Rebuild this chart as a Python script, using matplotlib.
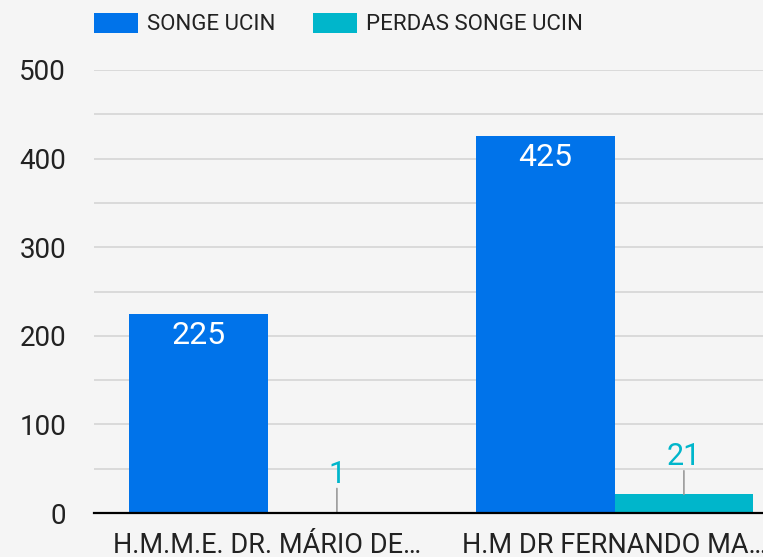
import numpy as np
import matplotlib
matplotlib.use("Agg")
import matplotlib.pyplot as plt
from matplotlib.patches import Patch

categories = ["H.M.M.E. DR. MÁRIO DE…", "H.M DR FERNANDO MA…"]
series_names = ["SONGE UCIN", "PERDAS SONGE UCIN"]
songe = [225, 425]
perdas = [1, 21]
y_ticks = [0, 100, 200, 300, 400, 500]

colors = ["#0073EA", "#00B6CB"]
bg = "#f5f5f5"

plt.rcParams["font.family"] = ["Roboto", "DejaVu Sans"]

fig = plt.figure(figsize=(7.63, 5.57), dpi=100, facecolor=bg)
ax = fig.add_axes([94 / 763, 44 / 557, 694 / 763, 443 / 557], facecolor=bg)

x = np.arange(len(categories))
w = 0.4
series = [songe, perdas]
for i, vals in enumerate(series):
    xs = x + (i - 0.5) * w
    ax.bar(xs, vals, width=w, color=colors[i], zorder=3)
    for xi, v in zip(xs, vals):
        if v > 50:
            # big bars: label inside, white
            ax.annotate(str(v), xy=(xi, v), xytext=(0, -5), textcoords="offset points",
                        ha="center", va="top", color="white", fontsize=23, zorder=4)
        else:
            # small bars: leader line + label above
            ax.annotate("", xy=(xi, v), xytext=(0, 17), textcoords="offset points",
                        arrowprops=dict(arrowstyle="-", color="#9a9a9a", lw=1.2,
                                        shrinkA=0, shrinkB=0), zorder=4)
            ax.annotate(str(v), xy=(xi, v), xytext=(0, 21), textcoords="offset points",
                        ha="center", va="baseline", color=colors[i], fontsize=22, zorder=4)

ax.set_xlim(-0.5, 1.5)
ax.set_ylim(0, 500)
ax.set_yticks(y_ticks)
ax.set_yticks(np.arange(0, 501, 50), minor=True)
ax.grid(True, which="both", axis="y", color="#d2d2d2", lw=1.1, zorder=0)
ax.set_xticks(x)
ax.set_xticklabels(categories, fontsize=19.5, color="#222222")
ax.tick_params(axis="x", length=0, pad=14)
ax.tick_params(axis="y", which="both", length=0, pad=20, labelsize=20, labelcolor="#222222")
for s in ["top", "right", "left"]:
    ax.spines[s].set_visible(False)
ax.spines["bottom"].set_color("black")
ax.spines["bottom"].set_linewidth(1.6)
ax.spines["bottom"].set_zorder(5)

handles = [Patch(facecolor=c, edgecolor="none") for c in colors]
fig.legend(handles, series_names, loc="center left", bbox_to_anchor=(74 / 763, 1 - 24 / 557),
           ncol=2, frameon=False, fontsize=16, handlelength=1.98, handleheight=1.0,
           handletextpad=0.4, columnspacing=1.7, labelcolor="#222222")

fig.savefig("out.png", dpi=100, facecolor=bg)
